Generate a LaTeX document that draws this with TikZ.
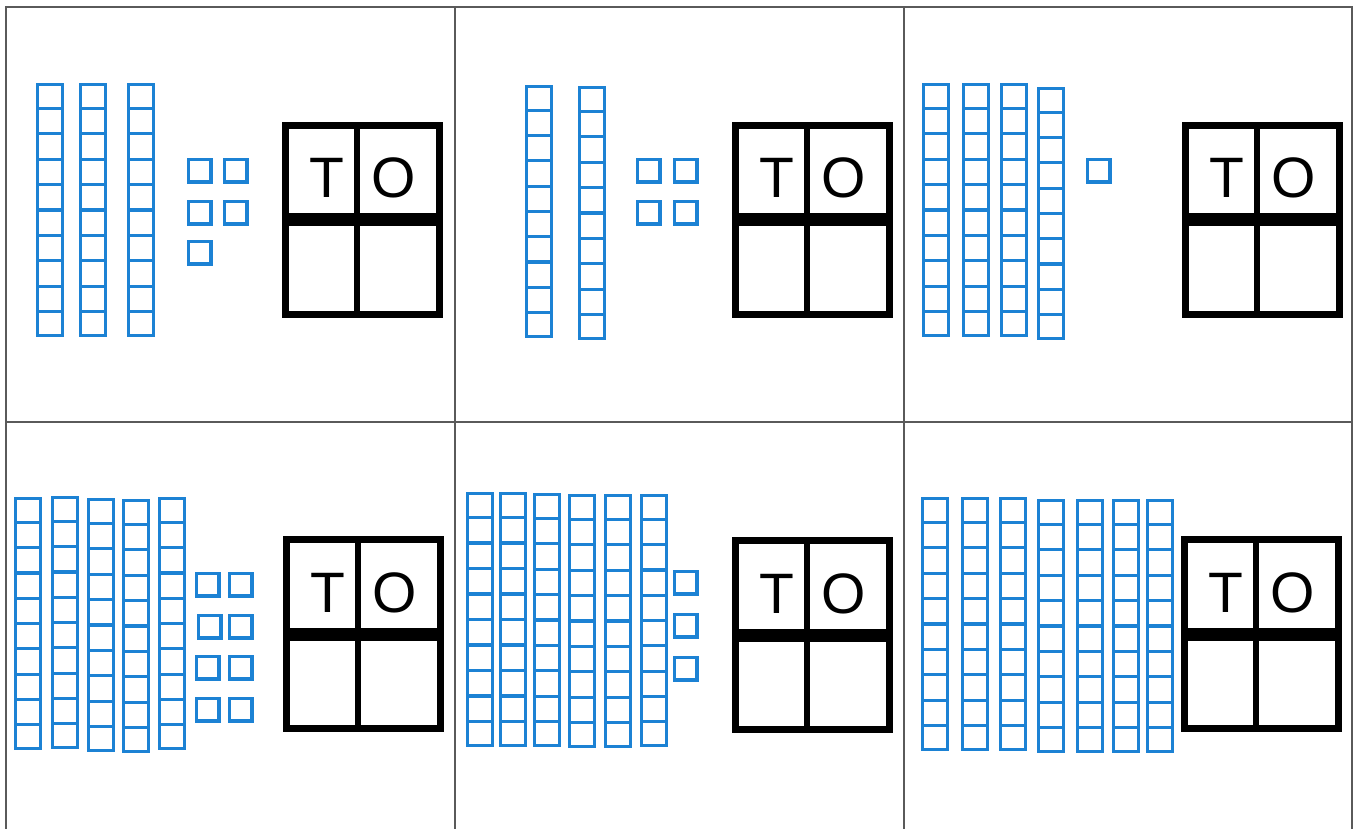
\documentclass[tikz,border=0pt]{standalone}
\usepackage{fontspec}
\setmainfont{Liberation Sans}

\definecolor{blaublocs}{RGB}{28,130,212}
\definecolor{grisgraella}{RGB}{90,90,90}

\tikzset{
  blocs/.style={draw=blaublocs, line width=3.2},
  graella/.style={draw=grisgraella, line width=1.5},
  marc/.style={draw=black, line width=7},
  lletra/.style={anchor=base, inner sep=0pt, font=\fontsize{57}{60}\selectfont}
}

% desena: x esquerra, y dalt, y baix
\newcommand{\desena}[3]{%
  \draw[blocs] (#1+1.5,#2+1.5) rectangle (#1+26.5,#3-1.5);
  \foreach \k in {1,...,9}
    \draw[blocs] (#1+1.5,{#2+(#3-#2)*\k/10}) -- (#1+26.5,{#2+(#3-#2)*\k/10});
}
% unitat: x esquerra, y dalt
\newcommand{\unitat}[2]{%
  \draw[blocs] (#1+1.5,#2+1.5) rectangle (#1+24,#2+24);
}
% taula T/O: x esquerra, y dalt, nom
\newcommand{\taulaTO}[3]{%
  \draw[marc] (#1+3.5,#2+3.5) rectangle (#1+157.5,#2+192.5);
  \draw[line width=6] (#1+75,#2+3.5) -- (#1+75,#2+192.5);
  \draw[line width=13] (#1+3.5,#2+98) -- (#1+157.5,#2+98);
  \node[lletra] (t#3) at (#1+45,#2+76) {T};
  \node[lletra] (o#3) at (#1+111.5,#2+76) {O};
}

\begin{document}
\begin{tikzpicture}[x=1pt, y=-1pt]
    \useasboundingbox (0,0) rectangle (1361,829);

    % Graella
    \draw[graella] (6,829) -- (6,7) -- (1352,7) -- (1352,829);
    \draw[graella] (455,7) -- (455,829);
    \draw[graella] (904,7) -- (904,829);
    \draw[graella] (6,422) -- (1352,422);

    % Quadre 1: 35
    \foreach \x/\ya/\yb in {36/83/337, 79/83/337, 127/83/337}
        \desena{\x}{\ya}{\yb};
    \foreach \x/\y in {187/158, 223/158, 187/200, 223/200, 187/240}
        \unitat{\x}{\y};
    \taulaTO{282}{122}{1}

    % Quadre 2: 24
    \foreach \x/\ya/\yb in {525/85/338, 578/86/340}
        \desena{\x}{\ya}{\yb};
    \foreach \x/\y in {636/158, 673/158, 636/200, 673/200}
        \unitat{\x}{\y};
    \taulaTO{732}{122}{2}

    % Quadre 3: 41
    \foreach \x/\ya/\yb in {922/83/337, 962/83/337, 1000/83/337, 1037/87/340}
        \desena{\x}{\ya}{\yb};
    \unitat{1086}{158}
    \taulaTO{1182}{122}{3}

    % Quadre 4: 58
    \foreach \x/\ya/\yb in {14/497/750, 51/496/749, 87/498/752, 122/499/753, 158/497/750}
        \desena{\x}{\ya}{\yb};
    \foreach \x/\y in {195/572, 228/572, 197/614, 228/614, 195/655, 228/655, 195/697, 228/697}
        \unitat{\x}{\y};
    \taulaTO{283}{536}{4}

    % Quadre 5: 63
    \foreach \x/\ya/\yb in {466/492/747, 499/492/747, 533/493/747, 568/494/748, 604/494/748, 640/494/747}
        \desena{\x}{\ya}{\yb};
    \foreach \x/\y in {673/570, 673/613, 673/656}
        \unitat{\x}{\y};
    \taulaTO{732}{537}{5}

    % Quadre 6: 70
    \foreach \x/\ya/\yb in {921/497/751, 961/497/751, 999/497/751, 1037/499/753, 1076/499/753, 1112/499/753, 1146/499/753}
        \desena{\x}{\ya}{\yb};
    \taulaTO{1181}{536}{6}
\end{tikzpicture}
\end{document}
